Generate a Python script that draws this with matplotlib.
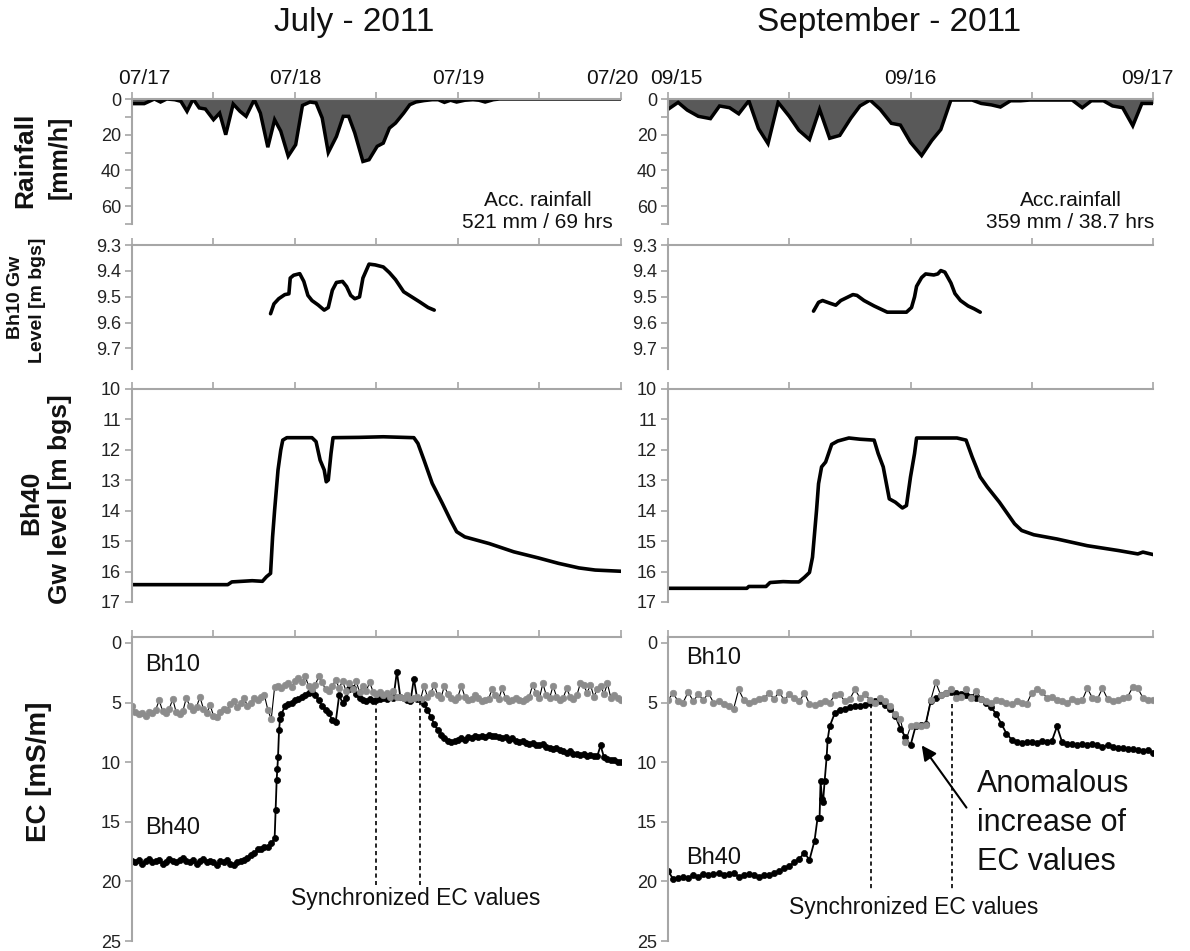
import numpy as np
import matplotlib
matplotlib.use("Agg")
import matplotlib.pyplot as plt

plt.rcParams['font.family'] = ['Liberation Sans', 'DejaVu Sans']

# hours since the first day shown (07/17 00:00 and 09/15 00:00)
jul_days = ['07/17', '07/18', '07/19', '07/20']
sep_days = ['09/15', '09/16', '09/17']

# hourly rainfall [mm/h]
rain_jul_hours = [0, 1.8, 3.3, 4.2, 5.1, 6.3, 7.2, 8.1, 9.0, 9.9, 10.8, 12.0, 12.9, 13.8,
                  14.9, 15.9, 16.8, 18.0, 18.9, 20.0, 21.0, 21.9, 23.0, 24.1, 25.1, 26.2,
                  27.1, 28.0, 28.9, 30.1, 31.1, 31.9, 32.8, 34.0, 34.9, 36.1, 37.0, 37.9,
                  38.8, 40.0, 40.9, 41.8, 43.0, 44.2, 45.1, 46.0, 46.9, 47.8, 49.0, 50.2,
                  51.1, 52.0, 53.2, 54.1, 72.0]
rain_jul = [2.6, 2.6, 0, 1.7, 0, 0.4, 1.3, 6.9, 0, 5.0, 5.6, 11.6, 7.9, 20,
            2.8, 6.9, 9.7, 0.4, 7.9, 27, 11.6, 18, 32, 25.6, 3.6, 1.7,
            2.2, 10.6, 30, 21, 9.7, 9.7, 19, 35, 34, 26.5, 24.7, 16.3,
            13.5, 7.9, 3.2, 1.7, 0.9, 0.4, 0.4, 1.9, 0.7, 1.7, 0.7, 0.4,
            0.7, 1.7, 0.4, 0, 0]

rain_sep_hours = [0, 1.0, 1.9, 3.0, 4.2, 5.1, 6.1, 7.0, 8.0, 8.95, 9.9, 10.9, 12.0, 12.95,
                  14.0, 15.0, 16.0, 17.0, 18.1, 19.0, 20.0, 21.0, 22.1, 23.0, 24.0, 25.1,
                  26.1, 27.0, 28.0, 29.0, 30.1, 31.0, 32.0, 32.9, 33.9, 34.9, 35.8, 36.9,
                  38.1, 40.0, 41.0, 41.9, 43.1, 44.0, 45.0, 46.0, 46.9, 48.0]
rain_sep = [5.8, 1.9, 6.2, 9.7, 11.0, 3.9, 4.9, 8.3, 1.0, 16.5, 25.0, 1.9, 9.7, 17.5,
            22.7, 5.8, 22.0, 20.4, 10.7, 3.9, 0.6, 5.8, 13.6, 14.6, 24.3, 31.7,
            23.3, 17.1, 0.6, 0.6, 0.6, 2.5, 3.3, 4.5, 1.0, 1.0, 0.6, 0.6,
            0.6, 0.6, 4.9, 1.0, 1.0, 3.9, 4.9, 15.0, 2.5, 2.5]

# Bh10 groundwater level [m bgs]
bh10_jul_hours = [20.4, 20.9, 21.6, 22.5, 23.1, 23.3, 23.8, 24.7, 25.3, 25.9, 26.5, 27.4,
                  28.3, 28.9, 29.5, 30.1, 31.0, 31.6, 32.2, 32.8, 33.5, 34.0, 34.9, 35.8,
                  37.0, 37.9, 38.8, 40.0, 41.2, 42.4, 43.6, 44.5]
bh10_jul = [9.566, 9.528, 9.508, 9.492, 9.489, 9.428, 9.417, 9.411, 9.441, 9.495, 9.515, 9.532,
            9.552, 9.542, 9.475, 9.445, 9.441, 9.461, 9.495, 9.508, 9.501, 9.428, 9.374, 9.377,
            9.385, 9.407, 9.434, 9.481, 9.501, 9.521, 9.542, 9.552]

bh10_sep_hours = [14.4, 14.9, 15.3, 16.0, 16.6, 17.1, 18.3, 18.7, 19.4, 20.4, 21.7, 23.6,
                  24.1, 24.4, 24.6, 25.1, 25.5, 26.3, 26.7, 27.0, 27.4, 28.0, 28.4, 28.95,
                  29.7, 30.3, 30.9]
bh10_sep = [9.556, 9.522, 9.515, 9.525, 9.533, 9.515, 9.492, 9.495, 9.515, 9.536, 9.560, 9.560,
            9.542, 9.501, 9.460, 9.426, 9.412, 9.416, 9.412, 9.399, 9.405, 9.447, 9.488, 9.515,
            9.536, 9.547, 9.560]

# Bh40 groundwater level [m bgs]
bh40_jul_hours = [0, 14.1, 14.7, 17.7, 19.2, 19.8, 20.4, 20.7, 21.0, 21.5, 21.9, 22.2, 22.8,
                  26.5, 27.1, 27.7, 28.3, 28.6, 28.9, 29.3, 29.6, 33.4, 37.0, 41.5, 42.1,
                  43.0, 44.2, 45.7, 46.9, 47.8, 49.0, 52.6, 56.2, 59.8, 62.8, 65.8, 68.2, 72.0]
bh40_jul = [16.43, 16.43, 16.34, 16.30, 16.32, 16.17, 16.06, 14.86, 13.98, 12.66, 12.01, 11.68, 11.60,
            11.60, 11.73, 12.34, 12.66, 13.05, 12.99, 12.12, 11.60, 11.59, 11.57, 11.60, 11.79,
            12.34, 13.10, 13.76, 14.31, 14.69, 14.86, 15.08, 15.35, 15.55, 15.73, 15.88, 15.95, 15.99]

bh40_sep_hours = [0, 7.8, 8.0, 9.7, 10.1, 11.4, 12.2, 12.95, 13.5, 14.0, 14.3, 14.7, 14.9,
                  15.2, 15.6, 16.2, 16.8, 17.9, 19.0, 20.4, 20.8, 21.3, 21.9, 22.5, 22.9,
                  23.2, 23.6, 24.0, 24.4, 24.6, 28.6, 29.5, 30.1, 30.9, 31.6, 32.8, 34.3,
                  35.0, 36.2, 38.5, 41.5, 44.6, 46.5, 47.0, 48.0]
bh40_sep = [16.55, 16.55, 16.49, 16.49, 16.36, 16.33, 16.34, 16.34, 16.19, 16.03, 15.53, 13.99, 13.11,
            12.56, 12.40, 11.82, 11.71, 11.61, 11.65, 11.68, 12.12, 12.56, 13.61, 13.72, 13.83,
            13.91, 13.83, 12.89, 12.12, 11.61, 11.61, 11.68, 12.23, 12.89, 13.22, 13.72, 14.43,
            14.65, 14.79, 14.93, 15.15, 15.31, 15.42, 15.36, 15.44]

# EC [mS/m], logged every half hour, plus extra readings during the fast rise
ec_jul_hours = np.arange(0, 72.01, 0.5)
ec_bh10_jul = [
    5.3, 5.8, 6.0, 5.9, 6.1, 5.8, 5.9, 5.6, 4.8, 5.7, 5.9, 5.5,
    4.7, 5.8, 6.0, 5.7, 4.6, 5.3, 5.6, 5.4, 4.5, 5.5, 5.9, 5.2,
    6.1, 6.2, 5.8, 5.5, 5.6, 5.1, 4.9, 5.4, 5.0, 4.6, 5.3, 5.0,
    4.6, 4.8, 4.5, 4.4, 5.6, 6.4, 3.7, 3.6, 3.8, 3.5, 3.4, 3.7,
    3.2, 2.9, 3.3, 2.8, 3.6, 3.9, 3.5, 2.8, 3.3, 3.9, 4.0, 3.6,
    3.1, 3.8, 3.2, 4.0, 3.4, 3.9, 3.2, 4.1, 3.6, 4.0, 3.3, 4.1,
    4.3, 4.1, 4.4, 4.2, 4.5, 4.0, 4.5, 4.5, 4.6, 4.4, 4.7, 4.6,
    4.5, 4.7, 3.6, 4.5, 4.2, 3.5, 4.4, 4.6, 3.6, 4.3, 4.6, 4.8,
    4.5, 3.6, 4.5, 4.8, 4.7, 4.4, 4.6, 4.9, 4.8, 4.7, 3.9, 4.4,
    4.7, 3.8, 4.6, 4.9, 4.8, 4.6, 4.8, 4.9, 4.7, 4.5, 3.5, 4.2,
    4.6, 3.4, 4.4, 4.6, 3.6, 4.5, 4.8, 4.6, 3.8, 4.5, 4.7, 4.4,
    3.4, 3.5, 4.2, 3.5, 4.5, 3.9, 3.6, 4.3, 3.4, 4.6, 4.4, 4.6,
    4.8]
ec_bh40_jul = [
    18.3, 18.4, 18.2, 18.5, 18.3, 18.1, 18.4, 18.3, 18.2, 18.5, 18.4, 18.1,
    18.3, 18.4, 18.2, 18.0, 18.3, 18.4, 18.2, 18.5, 18.3, 18.1, 18.4, 18.3,
    18.4, 18.6, 18.3, 18.4, 18.2, 18.5, 18.6, 18.4, 18.3, 18.2, 18.0, 17.8,
    17.6, 17.3, 17.3, 17.1, 17.1, 16.8, 16.4, 9.6, 6.0, 5.3, 5.1, 5.0,
    4.8, 4.7, 4.5, 4.4, 4.2, 4.1, 4.4, 4.8, 5.3, 5.6, 5.9, 6.5,
    6.6, 4.4, 5.0, 4.6, 3.9, 3.8, 4.3, 4.6, 4.8, 4.9, 4.7, 4.9,
    4.8, 4.7, 4.6, 4.7, 4.5, 4.6, 2.4, 4.5, 4.6, 4.8, 4.9, 3.0,
    4.7, 4.8, 5.1, 5.6, 6.2, 6.8, 7.3, 7.7, 8.0, 8.2, 8.3, 8.2,
    8.1, 8.0, 8.1, 7.9, 8.0, 7.8, 7.9, 7.8, 7.9, 7.7, 7.8, 7.8,
    7.9, 8.0, 7.9, 8.1, 8.0, 8.2, 8.3, 8.2, 8.4, 8.5, 8.4, 8.6,
    8.6, 8.5, 8.7, 8.8, 8.9, 8.8, 9.0, 9.1, 9.2, 9.1, 9.3, 9.3,
    9.4, 9.3, 9.5, 9.4, 9.5, 9.5, 8.6, 9.6, 9.7, 9.8, 9.8, 10.0,
    10.0]
rise_jul_hours = [21.15, 21.3, 21.4, 21.65, 21.8]
rise_bh40_jul = [14.0, 11.5, 10.6, 7.3, 6.4]

ec_sep_hours = np.arange(0, 48.01, 0.5)
ec_bh10_sep = [
    4.8, 4.2, 4.9, 5.0, 4.1, 4.9, 4.3, 4.8, 4.2, 5.0, 4.9, 5.1,
    5.3, 5.5, 3.9, 4.8, 5.0, 4.9, 4.7, 4.6, 4.2, 4.7, 4.1, 4.8,
    4.3, 4.6, 4.9, 4.2, 5.1, 5.2, 5.0, 4.9, 5.0, 4.4, 4.3, 4.9,
    4.7, 3.9, 4.6, 4.3, 4.8, 5.0, 4.6, 4.9, 5.3, 6.0, 6.4, 8.3,
    7.0, 6.9, 7.0, 6.9, 4.8, 3.3, 4.4, 4.2, 3.9, 4.6, 4.5, 3.9,
    4.6, 4.0, 4.7, 4.9, 5.0, 4.8, 4.9, 5.0, 5.1, 4.9, 5.0, 5.1,
    4.2, 3.9, 4.1, 4.6, 4.5, 4.8, 4.9, 5.0, 4.7, 4.9, 4.8, 3.8,
    4.6, 4.7, 3.8, 4.7, 4.9, 4.8, 4.6, 4.5, 3.7, 3.8, 4.6, 4.8,
    4.8]
ec_bh40_sep = [
    19.1, 19.8, 19.7, 19.6, 19.7, 19.5, 19.6, 19.4, 19.5, 19.4, 19.3, 19.5,
    19.4, 19.3, 19.6, 19.5, 19.4, 19.5, 19.6, 19.5, 19.5, 19.3, 19.1, 18.9,
    18.7, 18.4, 18.1, 17.6, 18.2, 16.6, 14.7, 11.6, 7.0, 5.9, 5.6, 5.5,
    5.4, 5.3, 5.3, 5.2, 5.0, 4.9, 4.9, 5.2, 5.5, 6.1, 7.2, 7.9,
    8.6, 7.0, 6.9, 6.8, 4.9, 4.6, 4.4, 4.2, 4.1, 4.2, 4.3, 4.4,
    4.5, 4.6, 4.7, 5.0, 5.4, 6.0, 6.8, 7.6, 8.1, 8.3, 8.4, 8.3,
    8.3, 8.4, 8.2, 8.3, 8.2, 7.0, 8.3, 8.5, 8.5, 8.6, 8.5, 8.6,
    8.5, 8.6, 8.7, 8.6, 8.7, 8.8, 8.8, 8.9, 8.9, 9.0, 9.1, 9.0,
    9.2]
rise_sep_hours = [14.8, 15.1, 15.25, 15.35, 15.7, 15.8]
rise_bh40_sep = [14.7, 11.6, 13.1, 13.3, 9.6, 8.1]

# window where both boreholes give the same EC
sync_jul = [36.0, 42.4]
sync_sep = [20.1, 28.1]

SPINE = '#a6a6a6'
W, H = 1190, 951


def add_panel(fig, left, top, width, height):
    return fig.add_axes([left / W, 1 - (top + height) / H, width / W, height / H])


def style(ax, n_days, ylim, yticks, minor=None, fmt='{:g}'):
    ax.set_xlim(0, n_days * 24)
    ax.set_ylim(*ylim)
    for side in ('right', 'bottom'):
        ax.spines[side].set_visible(False)
    for side in ('top', 'left'):
        ax.spines[side].set_color(SPINE)
        ax.spines[side].set_linewidth(1.5)
    ax.xaxis.tick_top()
    ax.set_xticks(np.arange(0, n_days * 24 + 1, 12))
    ax.set_xticklabels([])
    ax.set_yticks(yticks)
    ax.set_yticklabels([fmt.format(t) for t in yticks])
    if minor is not None:
        ax.set_yticks(minor, minor=True)
    ax.tick_params(axis='both', which='both', direction='out', length=5,
                   width=1.2, color=SPINE, labelsize=13, labelcolor='#222222', pad=3)
    ax.patch.set_alpha(0)


fig = plt.figure(figsize=(W / 100, H / 100), dpi=100)

columns = [
    dict(left=132, width=489, days=jul_days, title='July - 2011',
         rain_h=rain_jul_hours, rain=rain_jul, acc='Acc. rainfall\n521 mm / 69 hrs',
         acc_x=0.83, b10_h=bh10_jul_hours, b10=bh10_jul, b40_h=bh40_jul_hours, b40=bh40_jul,
         ec_h=ec_jul_hours, ec10=ec_bh10_jul, ec40=ec_bh40_jul,
         rise_h=rise_jul_hours, rise=rise_bh40_jul, sync=sync_jul,
         label_dx=[9, 0, 0, -6], sync_y=(4.9, 20.3), sync_text=(41.7, 21.4),
         bh10_xy=(2.0, 1.85), bh40_xy=(2.0, 15.5)),
    dict(left=668, width=485, days=sep_days, title='September - 2011',
         rain_h=rain_sep_hours, rain=rain_sep, acc='Acc.rainfall\n359 mm / 38.7 hrs',
         acc_x=0.83, b10_h=bh10_sep_hours, b10=bh10_sep, b40_h=bh40_sep_hours, b40=bh40_sep,
         ec_h=ec_sep_hours, ec10=ec_bh10_sep, ec40=ec_bh40_sep,
         rise_h=rise_sep_hours, rise=rise_bh40_sep, sync=sync_sep,
         label_dx=[6, 0, -4], sync_y=(5.1, 20.7), sync_text=(24.3, 22.2),
         bh10_xy=(1.8, 1.3), bh40_xy=(1.8, 18.0)),
]

for col in columns:
    n_days = len(col['days']) - 1
    left, width = col['left'], col['width']

    # rainfall
    ax = add_panel(fig, left, 99, width, 125)
    style(ax, n_days, (70, 0), [0, 20, 40, 60], minor=[10, 30, 50, 70])
    ax.fill_between(col['rain_h'], 0, col['rain'], color='#595959', lw=0)
    ax.plot(col['rain_h'], col['rain'], color='black', lw=2.5, solid_joinstyle='miter')
    ax.text(col['acc_x'], -0.06, col['acc'], transform=ax.transAxes, ha='center',
            va='bottom', fontsize=15, linespacing=1.2, color='#111111')
    for i, day in enumerate(col['days']):
        ax.annotate(day, xy=(i * 24, 1), xycoords=('data', 'axes fraction'),
                    xytext=(col['label_dx'][i], 8), textcoords='offset points',
                    ha='center', va='bottom', fontsize=15, color='#111111')
    fig.text((left + 0.455 * width) / W, 1 - 23 / H, col['title'], ha='center',
             va='center', fontsize=24, color='#111111')

    # Bh10 groundwater level
    ax = add_panel(fig, left, 245, width, 124)
    style(ax, n_days, (9.78, 9.3), [9.3, 9.4, 9.5, 9.6, 9.7], fmt='{:.1f}')
    ax.plot(col['b10_h'], col['b10'], color='black', lw=2.6, solid_capstyle='round')

    # Bh40 groundwater level
    ax = add_panel(fig, left, 389, width, 213)
    style(ax, n_days, (17, 10), list(range(10, 18)))
    ax.plot(col['b40_h'], col['b40'], color='black', lw=2.6)

    # EC of both boreholes
    ax = add_panel(fig, left, 637, width, 304)
    style(ax, n_days, (25, -0.5), [0, 5, 10, 15, 20, 25])
    h40 = np.concatenate([col['ec_h'], col['rise_h']])
    v40 = np.concatenate([col['ec40'], col['rise']])
    order = np.argsort(h40)
    ax.plot(h40[order], v40[order], color='black', lw=1.3, marker='o', ms=4.4,
            mfc='black', mec='black', mew=0.5)
    ax.plot(col['ec_h'], col['ec10'], color='black', lw=0.8, marker='o', ms=4.7,
            mfc='#8c8c8c', mec='#8c8c8c', mew=0.5)
    ax.vlines(col['sync'], *col['sync_y'], colors='black', lw=1.2, linestyles=(0, (2.5, 2)))
    ax.text(*col['sync_text'], 'Synchronized EC values', ha='center', va='center',
            fontsize=16.5, color='#111111')
    ax.text(*col['bh10_xy'], 'Bh10', fontsize=17, va='center', ha='left', color='#111111')
    ax.text(*col['bh40_xy'], 'Bh40', fontsize=17, va='center', ha='left', color='#111111')
    if n_days == 2:
        ax.annotate('', xy=(24.95, 8.4), xytext=(29.7, 14.0),
                    arrowprops=dict(arrowstyle='-|>', color='black', lw=1.5, mutation_scale=22))
        ax.text(30.6, 15.1, 'Anomalous\nincrease of\nEC values', fontsize=22,
                ha='left', va='center', linespacing=1.4, color='#111111')

# y-axis titles
ylabel = dict(rotation=90, ha='center', va='center', fontweight='bold', color='#111111')
fig.text(25 / W, 1 - 160 / H, 'Rainfall', fontsize=19, **ylabel)
fig.text(60 / W, 1 - 157 / H, '[mm/h]', fontsize=18, **ylabel)
fig.text(16 / W, 1 - 297 / H, 'Bh10 Gw', fontsize=14, **ylabel)
fig.text(38 / W, 1 - 300 / H, 'Level [m bgs]', fontsize=14, **ylabel)
fig.text(31 / W, 1 - 503 / H, 'Bh40', fontsize=19, **ylabel)
fig.text(60 / W, 1 - 499 / H, 'Gw level [m bgs]', fontsize=19, **ylabel)
fig.text(39 / W, 1 - 772 / H, 'EC [mS/m]', fontsize=20, **ylabel)

fig.savefig('out.png', dpi=100)
